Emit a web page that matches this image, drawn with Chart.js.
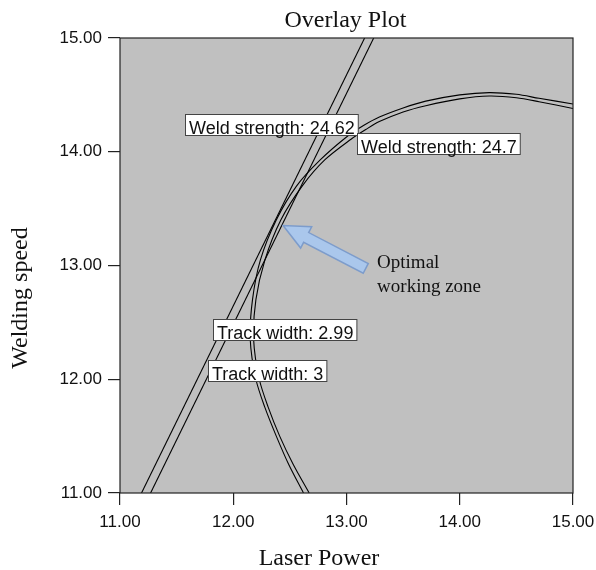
<!DOCTYPE html>
<html>
<head>
<meta charset="utf-8">
<script src="https://cdn.jsdelivr.net/npm/chart.js@4.4.0/dist/chart.umd.min.js"></script>
<style>
html,body{margin:0;padding:0;background:#fff;}
#wrap{width:596px;height:570px;}
</style>
</head>
<body>
<div id="wrap"><canvas id="overlay" width="596" height="570"></canvas></div>
<script>
// tick values
const xTicks = [11, 12, 13, 14, 15];
const yTicks = [11, 12, 13, 14, 15];

// Track width contours (straight lines)
const trackA_x = [11.19, 13.16];
const trackA_y = [11.00, 15.00];
const trackB_x = [11.27, 13.24];
const trackB_y = [11.00, 15.00];

// Weld strength contours
const weldOuter_x = [12.62, 12.49, 12.38, 12.28, 12.20, 12.15, 12.17, 12.24, 12.38, 12.56, 12.77, 13.00, 13.15, 13.29, 13.50, 13.70, 14.00, 14.26, 14.50, 14.70, 15.00];
const weldOuter_y = [11.00, 11.25, 11.50, 11.75, 12.00, 12.35, 12.70, 13.05, 13.40, 13.70, 13.93, 14.13, 14.23, 14.305, 14.385, 14.445, 14.50, 14.52, 14.505, 14.47, 14.42];
const weldInner_x = [12.67, 12.53, 12.41, 12.31, 12.23, 12.18, 12.20, 12.28, 12.42, 12.61, 12.81, 13.04, 13.17, 13.29, 13.50, 13.70, 14.00, 14.26, 14.50, 14.70, 15.00];
const weldInner_y = [11.00, 11.25, 11.50, 11.75, 12.00, 12.35, 12.70, 13.05, 13.40, 13.70, 13.93, 14.11, 14.195, 14.265, 14.35, 14.405, 14.465, 14.49, 14.475, 14.44, 14.38];

// small white optimal sliver
const zone_x = [12.35, 12.42, 12.53, 12.45, 12.35];
const zone_y = [13.35, 13.49, 13.65, 13.50, 13.35];

// contour flags
const flagText = ['Weld strength: 24.62', 'Weld strength: 24.7', 'Track width: 2.99', 'Track width: 3'];
const flagAt = [[12.333, 14.243], [13.808, 14.074], [12.45, 12.441], [12.297, 12.079]];

const pts = (xs, ys) => xs.map((x, i) => ({ x, y: ys[i] }));

const line = (xs, ys, tension) => ({
  data: pts(xs, ys), showLine: true, pointRadius: 0, borderColor: '#000',
  borderWidth: 1.1, tension, fill: false, order: 0
});

const decor = {
  id: 'decor',
  beforeDraw(chart) {
    const { ctx, chartArea: a } = chart;
    ctx.save();
    ctx.fillStyle = '#c0c0c0';
    ctx.fillRect(a.left, a.top, a.width, a.height);
    ctx.restore();
  },
  afterDatasetsDraw(chart) {
    const { ctx, chartArea: a, scales: { x, y } } = chart;
    ctx.save();
    // arrow to the optimal zone
    const tx = x.getPixelForValue(12.44), ty = y.getPixelForValue(13.352);
    const sx = x.getPixelForValue(13.17), sy = y.getPixelForValue(12.975);
    const len = Math.hypot(sx - tx, sy - ty);
    const ux = (sx - tx) / len, uy = (sy - ty) / len, nx = -uy, ny = ux;
    const hl = 26, hw = 12, sw = 5.5;
    const bx = tx + ux * hl, by = ty + uy * hl;
    ctx.beginPath();
    ctx.moveTo(tx, ty);
    ctx.lineTo(bx + nx * hw, by + ny * hw);
    ctx.lineTo(bx + nx * sw, by + ny * sw);
    ctx.lineTo(sx + nx * sw, sy + ny * sw);
    ctx.lineTo(sx - nx * sw, sy - ny * sw);
    ctx.lineTo(bx - nx * sw, by - ny * sw);
    ctx.lineTo(bx - nx * hw, by - ny * hw);
    ctx.closePath();
    ctx.fillStyle = '#aac7ec';
    ctx.fill();
    ctx.strokeStyle = '#7d9ccb';
    ctx.lineWidth = 1.5;
    ctx.stroke();

    ctx.fillStyle = '#111';
    ctx.font = '19px "Liberation Serif", "Times New Roman", serif';
    ctx.textAlign = 'left';
    ctx.textBaseline = 'alphabetic';
    const ox = x.getPixelForValue(13.27), oy = y.getPixelForValue(12.98);
    ctx.fillText('Optimal', ox, oy);
    ctx.fillText('working zone', ox, oy + 24.4);

    // contour flags
    ctx.font = '18px "Liberation Sans", Arial, sans-serif';
    flagText.forEach((t, i) => {
      const cx = x.getPixelForValue(flagAt[i][0]), cy = y.getPixelForValue(flagAt[i][1]);
      const w = ctx.measureText(t).width + 7, h = 21;
      const l = Math.round(cx - w / 2) + 0.5, tp = Math.round(cy - h / 2) + 0.5;
      ctx.fillStyle = '#fff';
      ctx.fillRect(l, tp, w, h);
      ctx.strokeStyle = '#444';
      ctx.lineWidth = 1;
      ctx.strokeRect(l, tp, w, h);
      ctx.fillStyle = '#111';
      ctx.fillText(t, l + 3.5, tp + 19);
    });

    // frame
    ctx.strokeStyle = '#222';
    ctx.lineWidth = 1.2;
    ctx.strokeRect(a.left, a.top, a.width, a.height);
    ctx.restore();
  },
  afterDraw(chart) {
    const { ctx, chartArea: a } = chart;
    ctx.save();
    ctx.fillStyle = '#111';
    ctx.font = '24px "Liberation Serif", "Times New Roman", serif';
    ctx.textAlign = 'center';
    ctx.textBaseline = 'alphabetic';
    ctx.fillText('Overlay Plot', (a.left + a.right) / 2 - 1, 26.5);
    ctx.fillText('Laser Power', 319, 565);
    ctx.translate(27, 298);
    ctx.rotate(-Math.PI / 2);
    ctx.fillText('Welding speed', 0, 0);
    ctx.restore();
  }
};

const tickFont = { family: '"Liberation Sans", Arial, sans-serif', size: 17 };

new Chart(document.getElementById('overlay').getContext('2d'), {
  type: 'scatter',
  data: {
    datasets: [
      line(trackA_x, trackA_y, 0),
      line(trackB_x, trackB_y, 0),
      line(weldOuter_x, weldOuter_y, 0.3),
      line(weldInner_x, weldInner_y, 0.3),
      { data: pts(zone_x, zone_y), showLine: true, pointRadius: 0, borderWidth: 0,
        borderColor: 'rgba(0,0,0,0)', backgroundColor: '#ffffff', fill: true, tension: 0, order: 1 }
    ]
  },
  options: {
    responsive: false,
    animation: false,
    events: [],
    layout: { padding: { top: 38, right: 23, left: 0, bottom: 0 } },
    plugins: { legend: { display: false }, tooltip: { enabled: false }, title: { display: false } },
    scales: {
      x: {
        type: 'linear', min: 11, max: 15,
        afterBuildTicks: s => { s.ticks = xTicks.map(v => ({ value: v })); },
        afterFit: s => { s.height = 77; s.paddingLeft = 0; s.paddingRight = 0; },
        ticks: { callback: v => Number(v).toFixed(2), font: tickFont, color: '#111', padding: 7, maxRotation: 0 },
        grid: { drawOnChartArea: false, tickLength: 12, tickColor: '#222', lineWidth: 1.2 },
        border: { display: false }
      },
      y: {
        type: 'linear', min: 11, max: 15,
        afterBuildTicks: s => { s.ticks = yTicks.map(v => ({ value: v })); },
        afterFit: s => { s.width = 120; s.paddingTop = 0; s.paddingBottom = 0; },
        ticks: { callback: v => Number(v).toFixed(2), font: tickFont, color: '#111', padding: 6 },
        grid: { drawOnChartArea: false, tickLength: 12, tickColor: '#222', lineWidth: 1.2 },
        border: { display: false }
      }
    }
  },
  plugins: [decor]
});
</script>
</body>
</html>
